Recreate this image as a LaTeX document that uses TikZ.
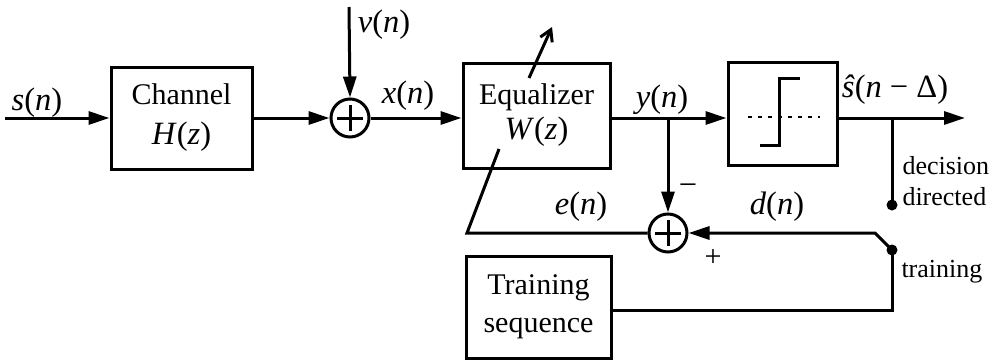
\documentclass[tikz,border=0pt]{standalone}
\usepackage{fontspec}
\setmainfont{Liberation Serif}
\usetikzlibrary{arrows.meta}
\newcommand{\mi}[1]{\textit{#1}}
\newcommand{\mathsz}{\fontsize{32.5}{36}\selectfont}
\begin{document}
\begin{tikzpicture}[x=1pt,y=-1pt,
  line width=3pt,
  arr/.style={-{Triangle[length=21pt,width=13pt]}},
  blk/.style={draw,rectangle,inner sep=0pt,align=center,font=\fontsize{30}{38}\selectfont},
  sumnode/.style={draw,circle,minimum size=38pt,inner sep=0pt},
  lbl/.style={inner sep=0pt,font=\mathsz},
  small/.style={inner sep=0pt,align=left,font=\fontsize{26}{31}\selectfont},
  jdot/.style={circle,fill,inner sep=0pt,minimum size=11pt}]
\useasboundingbox (0,0) rectangle (994,362);
% blocks
\node[blk,minimum width=141pt,minimum height=102pt] (chan) at (181.5,118) {Channel\\[2pt]{\mathsz\mi{H}(\mi{z})}};
\node[blk,minimum width=147pt,minimum height=105pt] (eq) at (536.5,115.5) {Equalizer\\[-3pt]{\mathsz\mi{W}(\mi{z})}};
\node[blk,minimum width=109pt,minimum height=103pt] (dec) at (782.5,113.5) {};
\node[blk,minimum width=145pt,minimum height=102pt] (train) at (538.5,307) {Training\\sequence};
\node[sumnode] (sum1) at (350,118) {};
\node[sumnode] (sum2) at (668,233) {};
\draw (sum1.center) ++(-13,0) -- ++(26,0);
\draw (sum1.center) ++(0,-13) -- ++(0,26);
\draw (sum2.center) ++(-13,0) -- ++(26,0);
\draw (sum2.center) ++(0,-13) -- ++(0,26);
% decision box interior
\draw (760,145) -- (779,145) -- (779,78) -- (800,78);
\draw[line width=2.4pt,dash pattern=on 4pt off 6pt] (748,117) -- (820,117);
% coordinates
\coordinate (in) at (5,118);
\coordinate (vtop) at (349,7);
\coordinate (yb) at (668,118);
\coordinate (sb) at (892,118);
\coordinate (out) at (965,118);
\node[jdot] (ddot) at (892,205) {};
\node[jdot] (tdot) at (892,250) {};
\coordinate (kink) at (875,233);
\coordinate (tcorner) at (892,310);
\coordinate (ebend) at (467,233);
\coordinate (etop) at (499,149);
\coordinate (abot) at (529,78);
\coordinate (atop) at (552,27);
% connectors
\draw[arr] (in) -- (chan.west);
\draw[arr] (chan.east) -- (sum1.west);
\draw[arr] (vtop) -- (sum1.north);
\draw[arr] (sum1.east) -- (sum1.east -| eq.west);
\draw (eq.east |- yb) -- (yb);
\draw[arr] (yb) -- (yb -| dec.west);
\draw[arr] (yb) -- (sum2.north);
\draw (dec.east |- sb) -- (sb);
\draw[arr] (sb) -- (out);
\draw (sb) -- (ddot.center);
\draw[arr] (tdot.center) -- (kink) -- (sum2.east);
\draw (train.east |- tcorner) -- (tcorner) -- (tdot.center);
\draw (sum2.west) -- (ebend) -- (etop);
\draw[-{Straight Barb[length=11pt,width=13pt,line width=3pt]}] (abot) -- (atop);
% labels
\node[lbl] (ls) at (37,103) {\mi{s}(\mi{n})};
\node[lbl] (lv) at (384,25) {\mi{v}(\mi{n})};
\node[lbl] (lx) at (408,96) {\mi{x}(\mi{n})};
\node[lbl] (ly) at (662,100) {\mi{y}(\mi{n})};
\node[lbl] (lsh) at (895,90) {\mi{ŝ}(\mi{n} − Δ)};
\node[lbl] (le) at (581,207) {\mi{e}(\mi{n})};
\node[lbl] (ld) at (777,207) {\mi{d}(\mi{n})};
\node[lbl] (lminus) at (688,190) {−};
\node[lbl,font=\fontsize{30}{32}\selectfont] (lplus) at (713,258) {+};
\node[small,anchor=west] (ldd) at (901,181) {decision\\directed};
\node[small,anchor=west] (ltr) at (900,272) {training};
\end{tikzpicture}
\end{document}
